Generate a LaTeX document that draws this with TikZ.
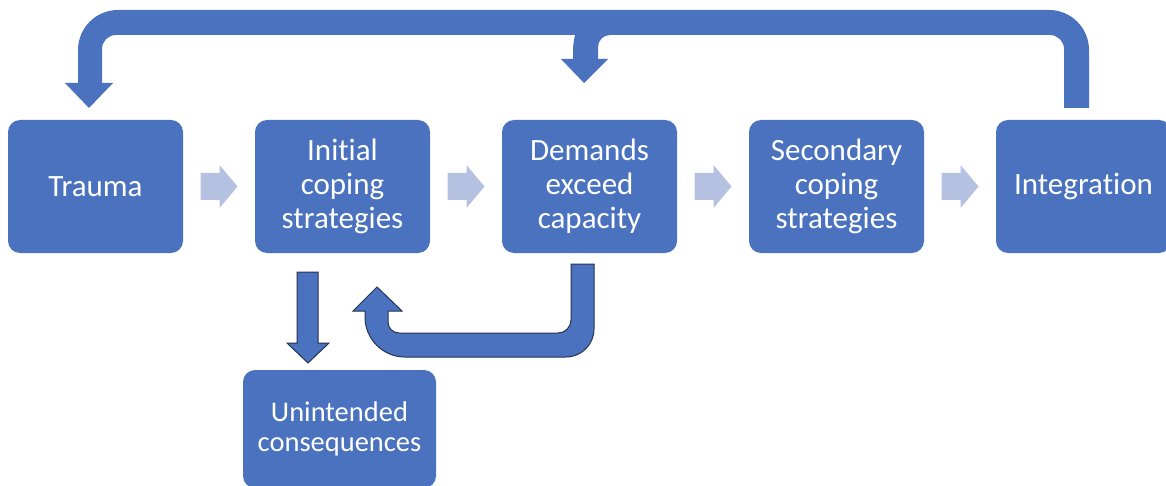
\documentclass[tikz,border=0pt]{standalone}
\usepackage{fontspec}
\setmainfont{Carlito}[Ligatures=NoCommon]
\usetikzlibrary{calc}

\definecolor{boxblue}{RGB}{74,114,190}
\definecolor{chevblue}{RGB}{180,193,224}
\definecolor{edgenavy}{RGB}{38,52,82}

\tikzset{
  box/.style={fill=boxblue, rounded corners=12pt, text=white, align=center,
    inner sep=0pt, minimum width=175pt, minimum height=133pt,
    font=\fontsize{31}{34}\selectfont},
  chev/.style={fill=chevblue},
  bandarrow/.style={fill=boxblue},
  blockarrow/.style={fill=boxblue, draw=edgenavy, line width=1pt, line join=miter}
}

\begin{document}
\begin{tikzpicture}[x=1pt, y=-1pt]
  \useasboundingbox (0,0) rectangle (1166,486);
  \fill[white] (0,0) rectangle (1166,486);
  \clip (0,0) rectangle (1166,486);

  % process boxes
  \node[box] (trauma)      at (95.5,186.5)  {Trauma};
  \node[box] (initial)     at (342.5,186.5) {Initial\\coping\\strategies};
  \node[box] (demands)     at (589.5,186.5) {Demands\\exceed\\capacity};
  \node[box] (secondary)   at (836.5,186.5) {Secondary\\coping\\strategies};
  \node[box] (integration) at (1083.5,186.5) {Integration};
  \node[box, minimum width=193pt, minimum height=118pt,
        font=\fontsize{28.5}{30}\selectfont] (unintended) at (339.5,429) {Unintended\\consequences};

  % light chevrons between neighbouring steps
  \foreach \a/\b in {trauma/initial, initial/demands, demands/secondary, secondary/integration}{
    \fill[chev] ($(\a.east)!0.5!(\b.west)$) ++(-18.5,-13.5) -- ++(19,0) -- ++(0,-8)
      -- ++(18,21.5) -- ++(-18,21.5) -- ++(0,-8) -- ++(-19,0) -- cycle;
  }

  % feedback band from Integration back to Trauma
  \fill[bandarrow] (1089,108) -- (1089,50) arc[start angle=0, end angle=-90, radius=40]
    -- (118,10) arc[start angle=-90, end angle=-180, radius=40]
    -- (78,83) -- (65,83) -- (89,108) -- (113,83) -- (102,83)
    -- (102,49) arc[start angle=180, end angle=270, radius=14]
    -- (1050,35) arc[start angle=270, end angle=360, radius=14]
    -- (1064,108) -- cycle;

  % branch of the band dropping into Demands
  \fill[bandarrow] (575,28) -- (575,35) .. controls (573,45) .. (573,59)
    -- (561,59) -- (584,83) -- (608,59) -- (598,59)
    -- (598,47) arc[start angle=180, end angle=270, radius=12]
    -- (610,28) -- cycle;

  % Demands loops back to Initial
  \draw[blockarrow] (571,264) -- (594,264)
    -- (594,329) arc[start angle=0, end angle=90, radius=28]
    -- (405,357) arc[start angle=90, end angle=180, radius=40]
    -- (365,311) -- (353,311) -- (377,287) -- (402,311) -- (388,311)
    -- (388,322) arc[start angle=180, end angle=90, radius=11]
    -- (558,333) arc[start angle=90, end angle=0, radius=13]
    -- cycle;

  % Initial leads down to Unintended consequences
  \draw[blockarrow] (297,272) -- (318,272) -- (318,343) -- (329,343)
    -- (308,363) -- (287,343) -- (297,343) -- cycle;
\end{tikzpicture}
\end{document}
